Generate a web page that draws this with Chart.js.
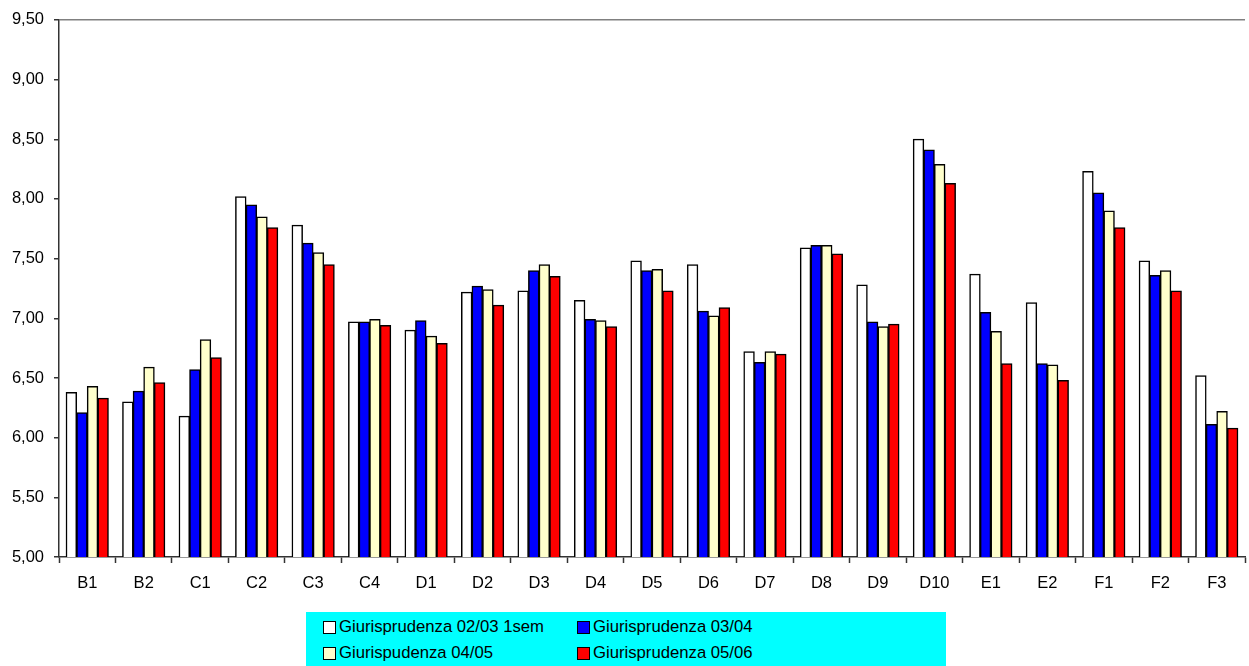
<!DOCTYPE html>
<html>
<head>
<meta charset="utf-8">
<script src="https://cdn.jsdelivr.net/npm/chart.js@4/dist/chart.umd.min.js"></script>
<style>
  html, body { margin: 0; padding: 0; background: #fff; overflow: hidden; }
  #wrap { position: relative; width: 1249px; height: 666px; }
  #c { position: absolute; left: 0; top: 0; }
  #legend { position: absolute; left: 306px; top: 612px; width: 640px; height: 60px; background: #00FFFF;
    font-family: "Liberation Sans", Arial, sans-serif; font-size: 16.7px; color: #000; }
  .item { position: absolute; display: flex; align-items: center; height: 22px; white-space: nowrap; }
  .sw { border: 1.5px solid #000; margin-right: 3px; box-sizing: border-box; width: 13px; height: 13px; }
</style>
</head>
<body>
<div id="wrap">
  <canvas id="c" width="1249" height="600"></canvas>
  <div id="legend"></div>
</div>
<script>
const categories = ["B1","B2","C1","C2","C3","C4","D1","D2","D3","D4","D5","D6","D7","D8","D9","D10","E1","E2","F1","F2","F3"];
const seriesNames = ["Giurisprudenza 02/03 1sem","Giurisprudenza 03/04","Giurispudenza 04/05","Giurisprudenza 05/06"];
const s0203 = [6.38,6.30,6.18,8.02,7.78,6.97,6.90,7.22,7.23,7.15,7.48,7.45,6.72,7.59,7.28,8.50,7.37,7.13,8.23,7.48,6.52];
const s0304 = [6.21,6.39,6.57,7.95,7.63,6.97,6.98,7.27,7.40,6.99,7.40,7.06,6.63,7.61,6.97,8.41,7.05,6.62,8.05,7.36,6.11];
const s0405 = [6.43,6.59,6.82,7.85,7.55,6.99,6.85,7.24,7.45,6.98,7.41,7.02,6.72,7.61,6.93,8.29,6.89,6.61,7.90,7.40,6.22];
const s0506 = [6.33,6.46,6.67,7.76,7.45,6.94,6.79,7.11,7.35,6.93,7.23,7.09,6.70,7.54,6.95,8.13,6.62,6.48,7.76,7.23,6.08];
const colors = ["#FFFFFF","#0000FF","#FFFFCC","#FF0000"];
const yTicks = [5.0,5.5,6.0,6.5,7.0,7.5,8.0,8.5,9.0,9.5];

const seriesData = [s0203, s0304, s0405, s0506];
const datasets = seriesData.map((d, i) => ({
  label: seriesNames[i],
  data: d,
  backgroundColor: colors[i],
  borderColor: "#000",
  borderWidth: 1.5,
  borderSkipped: "bottom",
  barPercentage: 1,
  categoryPercentage: 0.75,
  inflateAmount: 0.4
}));

const font = { family: "'Liberation Sans', Arial, sans-serif", size: 16.5 };

new Chart(document.getElementById("c"), {
  type: "bar",
  data: { labels: categories, datasets },
  options: {
    responsive: false,
    animation: false,
    layout: { padding: { top: 18, right: 4, left: 0, bottom: 0 } },
    plugins: { legend: { display: false }, tooltip: { enabled: false } },
    scales: {
      x: {
        offset: true,
        grid: { offset: true, drawOnChartArea: false, tickLength: 6, tickColor: "#333", tickWidth: 1.5 },
        border: { color: "#333", width: 1.5 },
        ticks: { color: "#000", font, padding: 11, maxRotation: 0, autoSkip: false },
        afterFit: s => { s.height = 43; }
      },
      y: {
        min: 5, max: 9.5,
        afterBuildTicks: s => { s.ticks = yTicks.map(v => ({ value: v })); },
        grid: {
          color: ctx => (ctx.tick && ctx.tick.value === 9.5) ? "#808080" : "rgba(0,0,0,0)",
          lineWidth: 1.5, tickLength: 5, tickColor: "#333", tickWidth: 1.5
        },
        border: { color: "#333", width: 1.5 },
        ticks: { color: "#000", font, padding: 10, callback: v => Number(v).toFixed(2).replace(".", ",") },
        afterFit: s => { s.width = 59; }
      }
    }
  }
});

const leg = document.getElementById("legend");
const pos = [[17, 4], [271, 4], [17, 30], [271, 30]];
seriesNames.forEach((n, i) => {
  const it = document.createElement("div");
  it.className = "item";
  it.style.left = pos[i][0] + "px";
  it.style.top = pos[i][1] + "px";
  const sw = document.createElement("span");
  sw.className = "sw";
  sw.style.background = colors[i];
  const t = document.createElement("span");
  t.textContent = n;
  it.appendChild(sw); it.appendChild(t);
  leg.appendChild(it);
});
</script>
</body>
</html>
